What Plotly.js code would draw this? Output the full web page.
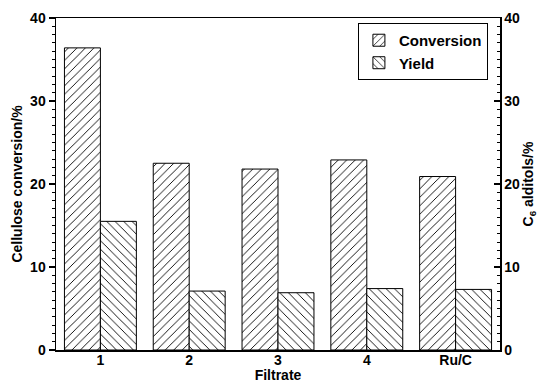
<!DOCTYPE html>
<html>
<head>
<meta charset="utf-8">
<script src="https://cdn.plot.ly/plotly-3.0.1.min.js"></script>
<style>html,body{margin:0;padding:0;background:#fff;}#chart{width:539px;height:383px;}</style>
</head>
<body>
<div id="chart"></div>
<script>
const categories = ["1", "2", "3", "4", "Ru/C"];
const conversion = [36.4, 22.5, 21.8, 22.9, 20.9];
const yieldC6 = [15.5, 7.1, 6.9, 7.4, 7.3];

const font = {family: "Liberation Sans, Arial, sans-serif", size: 14, color: "#000"};

const traces = [
  {
    type: "bar", name: "Conversion", x: categories, y: conversion,
    yaxis: "y", offsetgroup: "1",
    marker: {color: "#fff", line: {color: "#000", width: 1},
      pattern: {shape: "/", fgcolor: "#000", bgcolor: "#fff", size: 6, solidity: 0.15}}
  },
  {
    type: "bar", name: "Yield", x: categories, y: yieldC6,
    yaxis: "y2", offsetgroup: "2",
    marker: {color: "#fff", line: {color: "#000", width: 1},
      pattern: {shape: "\\", fgcolor: "#000", bgcolor: "#fff", size: 6, solidity: 0.15}}
  }
];

const bold = {family: font.family, size: 14, color: "#000", weight: "bold"};

const layout = {
  width: 539, height: 383,
  margin: {l: 56, r: 39, t: 18, b: 33},
  paper_bgcolor: "#fff", plot_bgcolor: "#fff",
  font: font,
  barmode: "group", bargap: 0.19, bargroupgap: 0,
  showlegend: true,
  legend: {x: 0.68, y: 0.985, xanchor: "left", yanchor: "top",
    bordercolor: "#000", borderwidth: 1, bgcolor: "#fff",
    font: {family: font.family, size: 15, color: "#000", weight: "bold"},
    tracegroupgap: 0, itemwidth: 30},
  xaxis: {
    type: "category", range: [-0.5, 4.5],
    showline: true, linecolor: "#000", linewidth: 1.5, mirror: true,
    ticks: "", showgrid: false, zeroline: false,
    ticklabelstandoff: -3,
    tickfont: bold,
    title: {text: "Filtrate", font: bold}
  },
  yaxis: {
    range: [0, 40], dtick: 10,
    showline: true, linecolor: "#000", linewidth: 1.5,
    ticks: "outside", ticklen: 6, tickwidth: 1.5, tickcolor: "#000",
    minor: {dtick: 1, ticks: "outside", ticklen: 3, tickwidth: 1, tickcolor: "#000", showgrid: false},
    showgrid: false, zeroline: false,
    tickfont: bold,
    title: {text: "Cellulose conversion/%", standoff: 4, font: bold}
  },
  yaxis2: {
    range: [0, 40], dtick: 10, overlaying: "y", side: "right", anchor: "x",
    showline: true, linecolor: "#000", linewidth: 1.5,
    ticks: "inside", ticklen: 6, tickwidth: 1.5, tickcolor: "#000",
    minor: {dtick: 1, ticks: "inside", ticklen: 3, tickwidth: 1, tickcolor: "#000", showgrid: false},
    showgrid: false, zeroline: false,
    tickfont: bold,
    title: {text: "C<sub>6</sub> alditols/%", standoff: 4, font: bold}
  }
};

Plotly.newPlot("chart", traces, layout, {displayModeBar: false, staticPlot: true});
</script>
</body>
</html>
